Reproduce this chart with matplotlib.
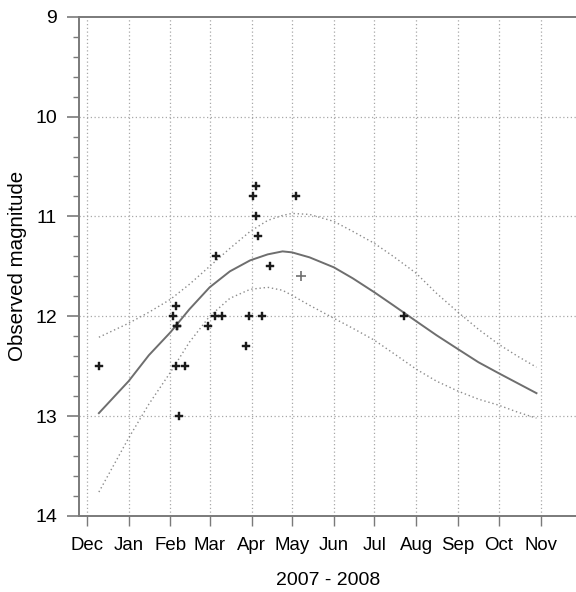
import matplotlib
matplotlib.use("Agg")
import matplotlib.pyplot as plt
from matplotlib.ticker import MultipleLocator, FixedLocator
import pandas as pd

plt.rcParams['font.family'] = ['Liberation Sans', 'DejaVu Sans']

# Observations
obs_dates = ["2007-12-10", "2008-02-03", "2008-02-05", "2008-02-05", "2008-02-06",
             "2008-02-06", "2008-02-07", "2008-02-12", "2008-02-29", "2008-03-05",
             "2008-03-06", "2008-03-10", "2008-03-28", "2008-03-30", "2008-04-02",
             "2008-04-04", "2008-04-04", "2008-04-06", "2008-04-09", "2008-04-15",
             "2008-05-04", "2008-07-23"]
obs_mag = [12.5, 12.0, 11.9, 12.5, 12.1,
           12.1, 13.0, 12.5, 12.1, 12.0,
           11.4, 12.0, 12.3, 12.0, 10.8,
           10.7, 11.0, 11.2, 12.0, 11.5,
           10.8, 12.0]
# Uncertain observation (gray)
obs2_dates = ["2008-05-08"]
obs2_mag = [11.6]

# Model curves
curve_dates = ["2007-12-10", "2008-01-01", "2008-01-16", "2008-02-01", "2008-02-15",
               "2008-03-01", "2008-03-16", "2008-03-31", "2008-04-13", "2008-04-24",
               "2008-05-01", "2008-05-14", "2008-06-01", "2008-06-15", "2008-07-01",
               "2008-07-15", "2008-08-01", "2008-08-16", "2008-09-01", "2008-09-16",
               "2008-10-01", "2008-10-15", "2008-10-29"]
mid_mag = [12.97, 12.65, 12.39, 12.16, 11.93, 11.71, 11.55, 11.44, 11.38, 11.35,
           11.36, 11.41, 11.51, 11.62, 11.76, 11.89, 12.05, 12.19, 12.33, 12.46,
           12.57, 12.67, 12.77]
upper_mag = [12.21, 12.07, 11.96, 11.83, 11.68, 11.50, 11.32, 11.15, 11.04, 10.99,
             10.97, 10.98, 11.05, 11.15, 11.27, 11.40, 11.57, 11.77, 11.96, 12.13,
             12.28, 12.40, 12.51]
lower_mag = [13.76, 13.22, 12.88, 12.56, 12.26, 12.00, 11.82, 11.73, 11.71, 11.74,
             11.79, 11.89, 12.02, 12.12, 12.24, 12.37, 12.53, 12.65, 12.75, 12.83,
             12.89, 12.96, 13.02]

month_starts = ["2007-12-01", "2008-01-01", "2008-02-01", "2008-03-01", "2008-04-01",
                "2008-05-01", "2008-06-01", "2008-07-01", "2008-08-01", "2008-09-01",
                "2008-10-01", "2008-11-01"]
month_labels = ["Dec", "Jan", "Feb", "Mar", "Apr", "May", "Jun", "Jul", "Aug", "Sep", "Oct", "Nov"]
y_ticks = [9, 10, 11, 12, 13, 14]

W, H = 576, 592
fig = plt.figure(figsize=(W / 100, H / 100), dpi=100)
left, right = 79.3, 577
top, bottom = 16.7, 516
ax = fig.add_axes([left / W, 1 - bottom / H, (right - left) / W, (bottom - top) / H])

cd = pd.to_datetime(curve_dates)
grid_kw = dict(color='#a8a8a8', lw=0.9, ls=(0, (1, 2)), zorder=1)
ax.plot(cd, upper_mag, color='#8c8c8c', lw=1.0, ls=(0, (1, 2)), zorder=2)
ax.plot(cd, lower_mag, color='#8c8c8c', lw=1.0, ls=(0, (1, 2)), zorder=2)
ax.plot(cd, mid_mag, color='#6e6e6e', lw=1.4, zorder=3)

ax.plot(pd.to_datetime(obs_dates), obs_mag, ls='none', marker='P', ms=5.5,
        color='#1a1a1a', mec='#1a1a1a', mew=0.3, zorder=4)
ax.plot(pd.to_datetime(obs2_dates), obs2_mag, ls='none', marker='+', ms=7,
        color='#707070', mew=1.2, zorder=4)

ms = pd.to_datetime(month_starts)
ax.set_xticks(ms)
ax.set_xticklabels(month_labels)
ax.set_xlim(pd.Timestamp("2007-11-25 12:00"), pd.Timestamp("2008-11-28"))
ax.set_ylim(14, 9)
ax.set_yticks(y_ticks)
ax.set_yticklabels([str(t) for t in y_ticks])
ax.yaxis.set_minor_locator(MultipleLocator(0.2))
ax.xaxis.set_minor_locator(FixedLocator([]))

for x in ms:
    ax.axvline(x, **grid_kw)
for y in y_ticks[1:-1]:
    ax.axhline(y, **grid_kw)

for s in ['left', 'top', 'bottom']:
    ax.spines[s].set_color('#7a7a7a')
    ax.spines[s].set_linewidth(1.4)
ax.spines['right'].set_visible(False)

ax.tick_params(axis='y', which='major', length=9, width=1.2, color='#7a7a7a',
               labelsize=14, pad=7)
ax.tick_params(axis='y', which='minor', length=4.5, width=1.0, color='#7a7a7a')
ax.tick_params(axis='x', which='major', length=7, width=1.0, color='#7a7a7a',
               labelsize=13.4, pad=8)

ax.set_ylabel("Observed magnitude", fontsize=14.8, labelpad=6)
ax.set_xlabel("2007 - 2008", fontsize=14, labelpad=13)

fig.savefig("out.png", dpi=100)
